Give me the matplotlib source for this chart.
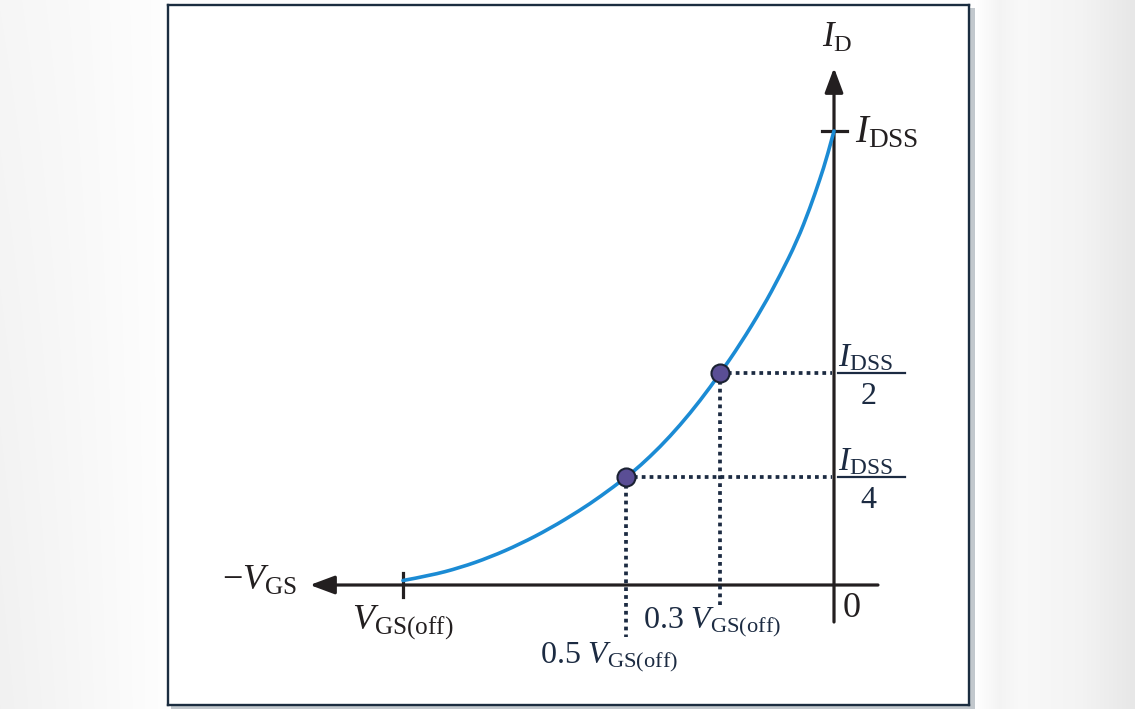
import numpy as np
import matplotlib
matplotlib.use('Agg')
import matplotlib.pyplot as plt
from matplotlib.patches import Rectangle, PathPatch
from matplotlib.path import Path

plt.rcParams['mathtext.fontset'] = 'custom'
plt.rcParams['mathtext.rm'] = 'Liberation Serif'
plt.rcParams['mathtext.it'] = 'Liberation Serif:italic'
plt.rcParams['mathtext.bf'] = 'Liberation Serif:bold'
plt.rcParams['font.family'] = ['Liberation Serif', 'DejaVu Serif']

# ---------------- data (normalised: V_GS / |V_GS(off)|, I_D / I_DSS) ----------------
vgs_curve = [-1.0, -0.9374, -0.8677, -0.7981, -0.7285, -0.6589, -0.5893, -0.5429,
             -0.4826, -0.4501, -0.4037, -0.3573, -0.3109, -0.2645, -0.2181, -0.1647,
             -0.1253, -0.0858, -0.0557, -0.0325, -0.0162, 0.0]
id_curve = [0.0099, 0.0207, 0.0381, 0.0612, 0.0901, 0.1244, 0.1645, 0.1943,
            0.2368, 0.2623, 0.3040, 0.3518, 0.4056, 0.4656, 0.5297, 0.6123,
            0.6817, 0.7577, 0.8304, 0.8943, 0.9427, 1.0]
marked_vgs = [-0.483, -0.265]
marked_id = [0.237, 0.466]
vgs_off = -1.0
idss = 1.0

TXT = '#231f20'
NAVY = '#1c2b42'

W, H = 1135, 709
fig = plt.figure(figsize=(W / 100, H / 100), dpi=100)

# background shading outside the frame
bg = fig.add_axes([0, 0, 1, 1], zorder=-10)
px = np.arange(W)
shade = np.interp(px, [0, 60, 165, 975, 1000, 1020, 1080, 1135],
                  [0.965, 0.975, 0.995, 1.0, 0.955, 0.975, 0.955, 0.905])
img = np.tile(shade, (H, 1))
rows = np.linspace(0, 1, H)[:, None]
left_mask = (px < 170)[None, :]
img = np.where(left_mask, img - 0.02 * rows * (1 - px / 170)[None, :], img)
img = np.clip(img, 0, 1)
bg.imshow(np.dstack([img, img, img]), aspect='auto', extent=[0, W, H, 0])
bg.set_xlim(0, W)
bg.set_ylim(H, 0)
bg.axis('off')
bg.add_patch(Rectangle((969, 8), 6, 701, color='#c2c8cd', lw=0))
bg.add_patch(Rectangle((171, 706), 804, 3, color='#c2c8cd', lw=0))

# main framed axes
ax = fig.add_axes([168 / W, 4 / H, 801 / W, 700 / H])
ax.set_xlim(-1.5452, 0.3132)
ax.set_ylim(-0.2643, 1.2775)
ax.set_xticks([])
ax.set_yticks([])
ax.set_facecolor('white')
for s in ax.spines.values():
    s.set_color('#1b2d40')
    s.set_linewidth(1.7)

# axes with arrows
arrow_kw = dict(arrowstyle='-|>,head_length=0.75,head_width=0.28', color=TXT,
                lw=2.3, shrinkA=0, shrinkB=0, mutation_scale=20)
ax.annotate('', xy=(-1.216, 0), xytext=(0.102, 0), arrowprops=arrow_kw, zorder=2)
ax.annotate('', xy=(0, 1.139), xytext=(0, -0.0815), arrowprops=arrow_kw, zorder=2)

# tick marks
ax.plot([vgs_off, vgs_off], [-0.027, 0.027], color=TXT, lw=2.3, zorder=2)
ax.plot([-0.028, 0.030], [idss, idss], color=TXT, lw=2.3, zorder=2)

# transfer curve: smooth quadratic B-spline path through the read points
pts = np.column_stack([vgs_curve, id_curve])
verts = [pts[0]]
codes = [Path.MOVETO]
n = len(pts)
for i in range(1, n - 1):
    end = pts[n - 1] if i == n - 2 else (pts[i] + pts[i + 1]) / 2
    verts += [pts[i], end]
    codes += [Path.CURVE3, Path.CURVE3]
ax.add_patch(PathPatch(Path(verts, codes), fill=False, edgecolor='#1b8bd4', lw=2.6,
                       capstyle='round', zorder=3))

# dotted guide lines
dot_kw = dict(color=NAVY, lw=2.7, linestyle=(0, (1, 1.1)), dash_capstyle='butt', zorder=2)
v_bottoms = [-0.1145, -0.044]
for xv, yv, yb in zip(marked_vgs, marked_id, v_bottoms):
    ax.plot([xv, -0.004], [yv, yv], **dot_kw)
    ax.plot([xv, xv], [yv, yb], **dot_kw)

ax.plot(marked_vgs, marked_id, 'o', ms=13, mfc='#5a4e95', mec='#1b2233', mew=1.5, zorder=5)

# labels
ax.text(-1.246, -0.011, r'$-V_{\mathrm{GS}}$', fontsize=26, color=TXT, ha='right', va='baseline')
ax.text(vgs_off, -0.099, r'$V_{\mathrm{GS(off)}}$', fontsize=26, color=TXT, ha='center', va='baseline')
ax.text(0.021, -0.0705, '0', fontsize=26, color=TXT, ha='left', va='baseline')
ax.text(-0.443, -0.0947, r'$\mathrm{0.3}\ V_{\mathrm{GS(off)}}$', fontsize=23, color=NAVY, ha='left', va='baseline')
ax.text(-0.682, -0.172, r'$\mathrm{0.5}\ V_{\mathrm{GS(off)}}$', fontsize=23, color=NAVY, ha='left', va='baseline')
ax.text(-0.028, 1.185, r'$I_{\mathrm{D}}$', fontsize=25, color=TXT, ha='left', va='baseline')
ax.text(0.049, 0.974, r'$I_{\mathrm{DSS}}$', fontsize=28, color=TXT, ha='left', va='baseline')

# fractions I_DSS/2 and I_DSS/4
for yv, den in zip(marked_id[::-1], ['2', '4']):
    ax.plot([0.0093, 0.1647], [yv, yv], color=NAVY, lw=1.6, zorder=2)
    ax.text(0.0093, yv + 0.015, r'$I_{\mathrm{DSS}}$', fontsize=24, color=NAVY, ha='left', va='baseline')
    ax.text(0.080, yv - 0.068, den, fontsize=23, color=NAVY, ha='center', va='baseline')

fig.savefig('out.png', dpi=100)
